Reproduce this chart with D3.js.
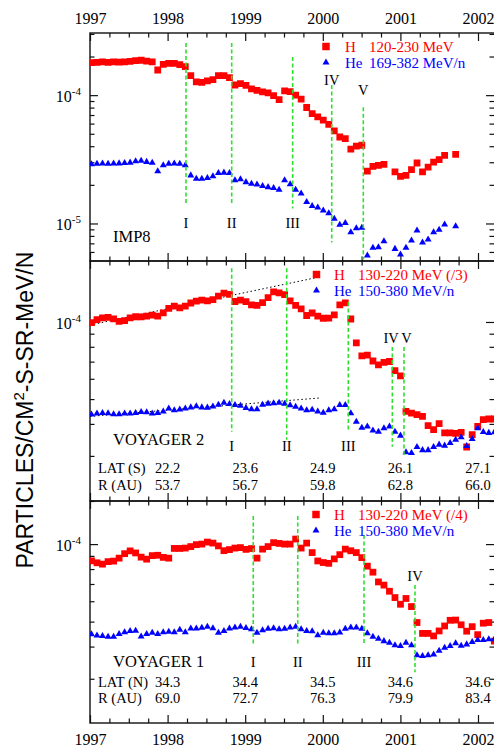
<!DOCTYPE html>
<html>
<head>
<meta charset="utf-8">
<script src="https://cdn.jsdelivr.net/npm/d3@7"></script>
<style>
  body { margin: 0; background: #fff; }
  svg { display: block; }
  text { font-family: "Liberation Serif", "Times New Roman", serif; fill: #000; }
</style>
</head>
<body>
<svg id="chart" width="494" height="748"></svg>
<script>
// ---- data (fluxes in units of 1e-5 particles/cm2-s-sr-MeV/n, 26-day averages) ----
const UNIT = 1e-5;

const times = [
  1997.019, 1997.090, 1997.161, 1997.233, 1997.304, 1997.375, 1997.446, 1997.517, 1997.588, 1997.659,
  1997.730, 1997.802, 1997.873, 1997.944, 1998.015, 1998.086, 1998.157, 1998.228, 1998.299, 1998.370,
  1998.441, 1998.513, 1998.584, 1998.655, 1998.726, 1998.797, 1998.868, 1998.939, 1999.010, 1999.081,
  1999.152, 1999.224, 1999.295, 1999.366, 1999.437, 1999.508, 1999.579, 1999.650, 1999.721, 1999.792,
  1999.863, 1999.935, 2000.006, 2000.077, 2000.148, 2000.219, 2000.290, 2000.361, 2000.432, 2000.503,
  2000.574, 2000.646, 2000.717, 2000.788, 2000.859, 2000.930, 2001.001, 2001.072, 2001.143, 2001.214,
  2001.285, 2001.357, 2001.428, 2001.499, 2001.570, 2001.641, 2001.712, 2001.783, 2001.854, 2001.925,
  2001.996, 2002.068, 2002.139, 2002.210
];

// IMP8: H 120-230 MeV, He 169-382 MeV/n
const imp8H = [
  17.9, 18.0, 18.2, 18.0, 18.2, 18.1, 18.2, 18.3, 18.6, 18.7, 18.4, 18.2, 15.7, 17.4, 17.7, 17.7, 17.3, 16.7,
  14.2, 12.7, 12.6, 12.9, 13.2, 14.2, 14.2, 13.7, 12.0, 12.3, 11.9, 11.2, 10.9, 10.6, 10.4, 9.9, 9.22,
  10.8, 10.65, 10.0, 9.31, 8.01, 7.19, 6.77, 6.38, 5.93, 5.26, 4.72, 4.59, 3.79, 4.00, 4.07,
  2.56, 2.79, 2.84, 2.89, null, 2.52, 2.33, 2.37, 2.63, 2.96, 2.52, 2.75, 3.01, 3.15, 3.40, null, 3.46
];
const imp8He = [
  2.89, 2.92, 2.93, 2.92, 2.93, 2.94, 2.96, 2.98, 3.05, 3.08, 3.02, 2.97, 2.55, 2.84, 2.92, 2.93, 2.92, 2.84,
  2.37, 2.23, 2.23, 2.26, 2.33, 2.47, 2.49, 2.47, 2.17, 2.21, 2.10, 2.04, 2.01, 1.96, 1.92, 1.89, 1.83,
  2.17, 2.02, 1.83, 1.71, 1.47, 1.37, 1.33, 1.26, 1.20, 1.09, 0.977, 1.01, 0.855, 0.919, 0.926,
  0.562, 0.646, 0.653, 0.727, null, 0.634, 0.573, 0.646, 0.737, 0.882, 0.710, 0.750, 0.855, 0.893, 0.982, null, 0.953
];

// Voyager 2: H 130-220 MeV (divided by 3), He 150-380 MeV/n
const v2H = [
  9.94, 10.21, 10.37, 10.43, 10.29, 10.06, 10.12, 10.38, 10.48, 10.47,
  10.54, 10.63, 10.53, 10.86, 11.31, 11.54, 11.35, 11.54, 11.86, 12.05,
  12.18, 12.09, 12.22, 12.62, 12.97, 12.82, 12.02, 12.16, 12.00, 11.67,
  11.60, 11.89, 12.45, 13.10, 12.99, 12.78, 12.09, 11.60, 11.25, 10.60,
  10.84, 10.53, 10.34, 10.35, 10.65, 11.67, 11.88, 10.27, 8.29, 7.37,
  7.42, 7.04, 6.80, 6.95, 7.01, 6.46, 6.16, 4.48, 4.41, 4.35,
  4.28, 3.94, 3.80, 4.01, 3.69, 3.69, 3.67, 3.71, 3.25, 3.63,
  3.91, 4.16, 4.18, 4.18
];
const v2He = [
  4.35, 4.39, 4.41, 4.40, 4.36, 4.36, 4.39, 4.39, 4.41, 4.45,
  4.44, 4.39, 4.41, 4.47, 4.59, 4.52, 4.55, 4.59, 4.64, 4.69,
  4.64, 4.63, 4.68, 4.75, 4.84, 4.78, 4.74, 4.71, 4.61, 4.56,
  4.56, 4.75, 4.80, 4.82, 4.84, 4.79, 4.73, 4.67, 4.59, 4.52,
  4.54, 4.47, 4.42, 4.52, 4.56, 4.74, 4.74, 4.40, 4.08, 3.86,
  3.91, 3.77, 3.73, 3.85, 3.91, 3.73, 3.60, 3.10, 3.08, 3.25,
  3.16, 3.16, 3.25, 3.32, 3.29, 3.37, 3.47, 3.55, 3.28, 3.49,
  3.85, 3.72, 3.69, 3.71
];
// dotted trend lines through the early Voyager 2 intensities [year, flux]
const v2TrendH = [[1997.0, 9.73], [1999.964, 15.0]];
const v2TrendHe = [[1997.0, 4.28], [1999.964, 5.05]];

// Voyager 1: H 130-220 MeV (divided by 4), He 150-380 MeV/n
const v1H = [
  8.61, 8.46, 8.36, 8.55, 8.59, 8.82, 9.18, 9.41, 9.24, 8.90,
  8.74, 9.02, 9.05, 8.88, 8.82, 9.62, 9.62, 9.65, 9.78, 9.95,
  10.00, 10.18, 10.09, 9.84, 9.43, 9.52, 9.65, 9.69, 9.54, 9.61,
  8.82, 9.56, 9.78, 10.13, 10.06, 10.00, 10.00, 10.46, 9.65, 10.09,
  9.27, 8.60, 8.48, 8.42, 8.76, 9.10, 9.56, 9.42, 9.27, 8.86,
  8.21, 7.78, 7.13, 6.93, 6.56, 6.20, 5.84, 6.15, 5.72, 4.96,
  4.50, 4.50, 4.40, 4.60, 4.81, 5.06, 5.07, 4.86, 4.59, 4.78,
  4.45, 4.93, 4.96, 4.20
];
const v1He = [
  4.47, 4.42, 4.40, 4.37, 4.37, 4.48, 4.55, 4.60, 4.61, 4.38,
  4.48, 4.53, 4.48, 4.55, 4.57, 4.55, 4.65, 4.55, 4.70, 4.70,
  4.73, 4.78, 4.71, 4.53, 4.60, 4.70, 4.74, 4.78, 4.72, 4.67,
  4.53, 4.63, 4.69, 4.71, 4.67, 4.69, 4.74, 4.78, 4.67, 4.60,
  4.59, 4.43, 4.53, 4.51, 4.51, 4.54, 4.69, 4.74, 4.74, 4.69,
  4.51, 4.37, 4.29, 4.20, 4.14, 4.05, 4.02, 4.14, 4.05, 3.70,
  3.68, 3.70, 3.73, 3.85, 3.96, 4.02, 4.12, 4.03, 4.08, 4.17,
  4.24, 4.24, 4.27, 4.27
];

// step-decrease events: time, extent of the marker line (flux units), flux level of the label
// (lt: label time where it differs from the event time)
const imp8Events = [
  { label: "I",   t: 1998.237, hi: 25.5, lo: 1.43,  at: 1.0 },
  { label: "II",  t: 1998.826, hi: 25.5, lo: 1.43,  at: 1.0 },
  { label: "III", t: 1999.612, hi: 19.8, lo: 1.31,  at: 1.0 },
  { label: "IV",  t: 2000.115, hi: 12.0, lo: 0.71,  at: 13.1 },
  { label: "V",   t: 2000.522, hi: 8.06, lo: 0.523, at: 10.9 }
];
const v2Events = [
  { label: "I",   t: 1998.826, hi: 16.2,  lo: 3.73, at: 3.29 },
  { label: "II",  t: 1999.535, hi: 16.2,  lo: 3.47, at: 3.29 },
  { label: "III", t: 2000.329, hi: 11.96, lo: 3.73, at: 3.29 },
  { label: "IV",  t: 2000.896, hi: 7.99,  lo: 3.26, at: 8.66, lt: 2000.880 },
  { label: "V",   t: 2001.046, hi: 7.99,  lo: 2.98, at: 8.66, lt: 2001.080 }
];
const v1Events = [
  { label: "I",   t: 1999.104, hi: 12.85, lo: 4.05, at: 3.5 },
  { label: "II",  t: 1999.677, hi: 12.85, lo: 4.05, at: 3.5 },
  { label: "III", t: 2000.531, hi: 10.84, lo: 4.05, at: 3.5 },
  { label: "IV",  t: 2001.188, hi: 6.93,  lo: 3.18, at: 7.51 }
];

// spacecraft position at the start of each year
const posYears = [1998, 1999, 2000, 2001, 2002];
const v2Lat = ["22.2", "23.6", "24.9", "26.1", "27.1"];
const v2R   = ["53.7", "56.7", "59.8", "62.8", "66.0"];
const v1Lat = ["34.3", "34.4", "34.5", "34.6", "34.6"];
const v1R   = ["69.0", "72.7", "76.3", "79.9", "83.4"];

const yearTicks = [1997, 1998, 1999, 2000, 2001, 2002];
const quarterTicks = d3.range(1997, 2002.3, 0.25).filter(v => Math.abs(v - Math.round(v)) > 1e-6);

// ---- layout ----
const svg = d3.select("#chart");
const LEFT = 90, RIGHT = 495.5;
const x = d3.scaleLinear().domain([1997, 2002]).range([LEFT, 478]);

const RED = "#ff0000", BLUE = "#0000ff", GREEN = "#2fe02f";
const square = d3.symbol().type(d3.symbolSquare).size(46);
const triangle = d3.symbol().type(d3.symbolTriangle).size(21);

const panels = [
  { top: 33, bottom: 261, domain: [0.51, 30.5], H: imp8H, He: imp8He, events: imp8Events,
    name: "IMP8", nameY: 242,
    legend: { sx: 326, tx: 345, y1: 46.5, y2: 62.5, h: "120-230 MeV", he: "169-382 MeV/n" } },
  { top: 261, bottom: 501, domain: [2.0, 17.3], H: v2H, He: v2He, events: v2Events,
    name: "VOYAGER 2", nameY: 445, trends: [v2TrendH, v2TrendHe],
    rows: { latLabel: "LAT (S)", lat: v2Lat, r: v2R, y1: 473, y2: 490 },
    legend: { sx: 316.5, tx: 334, y1: 274.5, y2: 290.5, h: "130-220 MeV (/3)", he: "150-380 MeV/n" } },
  { top: 501, bottom: 723, domain: [2.02, 14.7], H: v1H, He: v1He, events: v1Events,
    name: "VOYAGER 1", nameY: 666.5,
    rows: { latLabel: "LAT (N)", lat: v1Lat, r: v1R, y1: 686.5, y2: 702.5 },
    legend: { sx: 316, tx: 334, y1: 514.5, y2: 530.5, h: "130-220 MeV (/4)", he: "150-380 MeV/n" } }
];

panels.forEach((p, pi) => {
  const y = d3.scaleLog()
    .domain([p.domain[0] * UNIT, p.domain[1] * UNIT])
    .range([p.bottom, p.top]);
  const g = svg.append("g");

  // clip for the data marks
  const clipId = "clip" + pi;
  svg.append("clipPath").attr("id", clipId)
    .append("rect").attr("x", LEFT).attr("y", p.top).attr("width", RIGHT - LEFT).attr("height", p.bottom - p.top);

  // x ticks, inward on top and bottom edges
  const xAxes = [
    { ax: d3.axisBottom, pos: p.top },
    { ax: d3.axisTop, pos: p.bottom }
  ];
  xAxes.forEach(a => {
    [[yearTicks, 8], [quarterTicks, 4.5]].forEach(([vals, len]) => {
      const axg = g.append("g").attr("transform", `translate(0,${a.pos})`)
        .call(a.ax(x).tickValues(vals).tickSize(len).tickSizeOuter(0).tickFormat(""));
      axg.select(".domain").remove();
      axg.selectAll("line").attr("stroke", "#111").attr("stroke-width", 1.2);
    });
  });

  // y ticks, inward on left and right edges
  const yt = y.ticks();
  const isMajor = v => Math.abs(Math.log10(v) - Math.round(Math.log10(v))) < 1e-6;
  [[d3.axisRight, LEFT], [d3.axisLeft, 494]].forEach(([ax, pos]) => {
    [[yt.filter(isMajor), 8], [yt.filter(v => !isMajor(v)), 4.5]].forEach(([vals, len]) => {
      const axg = g.append("g").attr("transform", `translate(${pos},0)`)
        .call(ax(y).tickValues(vals).tickSize(len).tickSizeOuter(0).tickFormat(""));
      axg.select(".domain").remove();
      axg.selectAll("line").attr("stroke", "#111").attr("stroke-width", 1.2);
    });
  });

  // major tick labels 10^n
  yt.filter(isMajor).forEach(v => {
    const t = g.append("text").attr("x", 81).attr("y", y(v) + 7)
      .attr("text-anchor", "end").style("font-size", "16px");
    t.append("tspan").text("10");
    t.append("tspan").attr("dy", -7).style("font-size", "11px").text(String(Math.round(Math.log10(v))));
  });

  // frame
  g.append("rect")
    .attr("x", LEFT).attr("y", p.top).attr("width", RIGHT - LEFT).attr("height", p.bottom - p.top)
    .attr("fill", "none").attr("stroke", "#111").attr("stroke-width", 1.4);

  const marks = g.append("g").attr("clip-path", `url(#${clipId})`);

  // dotted trend lines
  (p.trends || []).forEach(tr => {
    marks.append("path")
      .attr("d", d3.line().x(d => x(d[0])).y(d => y(d[1] * UNIT))(tr))
      .attr("fill", "none").attr("stroke", "#000").attr("stroke-width", 1)
      .attr("stroke-dasharray", "1.5,2.5");
  });

  // H squares, then He triangles
  const hPts = times.map((t, i) => [t, p.H[i]]).filter(d => d[1] != null);
  marks.selectAll(null).data(hPts).join("path")
    .attr("d", square)
    .attr("transform", d => `translate(${x(d[0])},${y(d[1] * UNIT)})`)
    .attr("fill", RED);
  const hePts = times.map((t, i) => [t, p.He[i]]).filter(d => d[1] != null);
  marks.selectAll(null).data(hePts).join("path")
    .attr("d", triangle)
    .attr("transform", d => `translate(${x(d[0])},${y(d[1] * UNIT)})`)
    .attr("fill", BLUE);

  // event lines and labels
  p.events.forEach(ev => {
    g.append("line")
      .attr("x1", x(ev.t)).attr("x2", x(ev.t))
      .attr("y1", y(ev.hi * UNIT)).attr("y2", y(ev.lo * UNIT))
      .attr("stroke", GREEN).attr("stroke-width", 1.6).attr("stroke-dasharray", "4,2.5");
    g.append("text").attr("x", x(ev.lt ?? ev.t)).attr("y", y(ev.at * UNIT) + 5)
      .attr("text-anchor", "middle").style("font-size", "14.5px").text(ev.label);
  });

  // spacecraft name
  g.append("text").attr("x", 113).attr("y", p.nameY).style("font-size", "16.5px").text(p.name);

  // latitude / distance rows
  if (p.rows) {
    const r = p.rows;
    g.append("text").attr("x", 98).attr("y", r.y1).style("font-size", "14.5px").text(r.latLabel);
    g.append("text").attr("x", 98).attr("y", r.y2).style("font-size", "14.5px").text("R (AU)");
    posYears.forEach((yr, i) => {
      g.append("text").attr("x", x(yr)).attr("y", r.y1).attr("text-anchor", "middle")
        .style("font-size", "14.5px").text(r.lat[i]);
      g.append("text").attr("x", x(yr)).attr("y", r.y2).attr("text-anchor", "middle")
        .style("font-size", "14.5px").text(r.r[i]);
    });
  }

  // legend
  const L = p.legend;
  g.append("path").attr("d", d3.symbol().type(d3.symbolSquare).size(56)())
    .attr("transform", `translate(${L.sx},${L.y1})`).attr("fill", RED);
  g.append("path").attr("d", triangle())
    .attr("transform", `translate(${L.sx},${L.y2})`).attr("fill", BLUE);
  const t1 = g.append("text").attr("y", L.y1 + 5).style("font-size", "15px").style("fill", RED);
  t1.append("tspan").attr("x", L.tx).style("fill", RED).text("H");
  t1.append("tspan").attr("x", L.tx + 24).style("fill", RED).text(L.h);
  const t2 = g.append("text").attr("y", L.y2 + 5).style("font-size", "15px").style("fill", BLUE);
  t2.append("tspan").attr("x", L.tx).style("fill", BLUE).text("He");
  t2.append("tspan").attr("x", L.tx + 24).style("fill", BLUE).text(L.he);
});

// year labels above the top panel and below the bottom panel
const topAx = svg.append("g").attr("transform", "translate(0,33)")
  .call(d3.axisTop(x).tickValues(yearTicks).tickSize(0).tickPadding(9).tickFormat(d3.format("d")));
const botAx = svg.append("g").attr("transform", "translate(0,723)")
  .call(d3.axisBottom(x).tickValues(yearTicks).tickSize(0).tickPadding(10.5).tickFormat(d3.format("d")));
[topAx, botAx].forEach(a => {
  a.select(".domain").remove();
  a.selectAll("text").attr("font-family", null).attr("font-size", null)
    .style("font-size", "16px").style("font-family", "'Liberation Serif', serif").attr("fill", "#000");
});

// y-axis title
const title = svg.append("text")
  .attr("transform", "translate(33,410) rotate(-90)")
  .attr("text-anchor", "middle")
  .style("font-family", "'Liberation Sans', Arial, sans-serif")
  .style("font-size", "23px");
title.append("tspan").text("PARTICLES/CM");
title.append("tspan").attr("dy", -9).style("font-size", "15px").text("2");
title.append("tspan").attr("dy", 9).text("-S-SR-MeV/N");
</script>
</body>
</html>
